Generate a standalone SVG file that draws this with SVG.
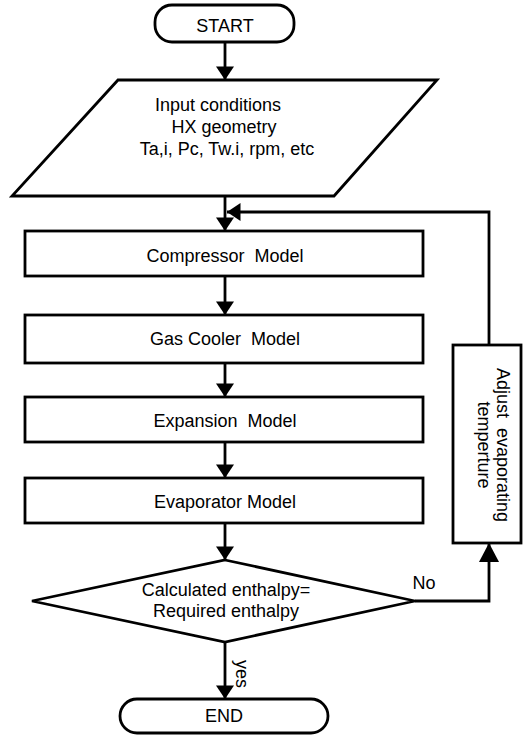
<svg xmlns="http://www.w3.org/2000/svg" width="523" height="735" viewBox="0 0 523 735">
<style>
.s{fill:#fff;stroke:#000;stroke-width:2.8}
.t{font-family:"Liberation Sans",Arial,sans-serif;font-size:18px;fill:#000;text-anchor:middle;white-space:pre}
.c{fill:none;stroke:#000;stroke-width:2.8}
</style>
<defs>
<marker id="ah" markerUnits="userSpaceOnUse" markerWidth="18" markerHeight="18" viewBox="0 0 12 16" refX="12" refY="8" orient="auto">
<path d="M0,0 L12,8 L0,16 Z" fill="#000"/>
</marker>
<marker id="ahBig" markerUnits="userSpaceOnUse" markerWidth="20" markerHeight="20" viewBox="0 0 19 20" refX="19" refY="10" orient="auto">
<path d="M0,0 L19,10 L0,20 Z" fill="#000"/>
</marker>
</defs>
<rect width="523" height="735" fill="#fff"/>
<g id="connectors">
<path class="c" d="M225,42 V80" marker-end="url(#ah)"/>
<path class="c" d="M225,196 V231" marker-end="url(#ah)"/>
<path class="c" d="M225,276 V315" marker-end="url(#ah)"/>
<path class="c" d="M225,363 V397" marker-end="url(#ah)"/>
<path class="c" d="M225,442 V478" marker-end="url(#ah)"/>
<path class="c" d="M225,523 V560" marker-end="url(#ah)"/>
<path class="c" d="M225,642 V699" marker-end="url(#ah)"/>
<path class="c" d="M415,601 H489 V543" marker-end="url(#ahBig)"/>
<path class="c" d="M489,345 V212 H227" marker-end="url(#ah)"/>
<text class="t" x="424" y="589">No</text>
<text class="t" transform="translate(236,674) rotate(90)" y="0">yes</text>
</g>
<g id="start">
<rect class="s" x="155" y="5" width="139" height="37" rx="17"/>
<text class="t" x="225" y="32">START</text>
</g>
<g id="input">
<polygon class="s" points="118,80 437,80 334,196 12,196"/>
<text class="t" x="218" y="111">Input conditions</text>
<text class="t" x="224" y="133">HX geometry</text>
<text class="t" x="227" y="155">Ta,i, Pc, Tw.i, rpm, etc</text>
</g>
<g id="compressor">
<rect class="s" x="25" y="231" width="398" height="45"/>
<text class="t" x="225" y="262">Compressor  Model</text>
</g>
<g id="gascooler">
<rect class="s" x="25" y="315" width="398" height="48"/>
<text class="t" x="225" y="345">Gas Cooler  Model</text>
</g>
<g id="expansion">
<rect class="s" x="25" y="397" width="398" height="45"/>
<text class="t" x="225" y="427">Expansion  Model</text>
</g>
<g id="evaporator">
<rect class="s" x="25" y="478" width="398" height="45"/>
<text class="t" x="225" y="508">Evaporator Model</text>
</g>
<g id="decision">
<polygon class="s" points="225,560 415,601 225,642 32,601"/>
<text class="t" x="226" y="596">Calculated enthalpy=</text>
<text class="t" x="226" y="617">Required enthalpy</text>
</g>
<g id="adjust">
<rect class="s" x="453" y="345" width="68" height="198"/>
<text class="t" transform="translate(497,445) rotate(90)">Adjust  evaporating</text>
<text class="t" transform="translate(478,445) rotate(90)">temperture</text>
</g>
<g id="end">
<rect class="s" x="120" y="699" width="208" height="34" rx="17"/>
<text class="t" x="224" y="722">END</text>
</g>
</svg>
